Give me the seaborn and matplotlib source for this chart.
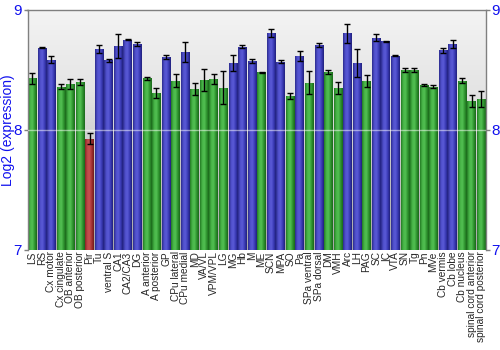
import numpy as np
import pandas as pd
import matplotlib
matplotlib.use("Agg")
import matplotlib.pyplot as plt
import seaborn as sns
from matplotlib.colors import LinearSegmentedColormap

regions = ["LS", "RS", "Cx motor", "Cx cingulate", "OB anterior", "OB posterior", "Pir",
           "Tu", "ventral S", "CA1", "CA2/CA3", "DG", "A anterior", "A posterior", "GP",
           "CPu lateral", "CPu medial", "MD", "VA/VL", "VPM/VPL", "LG", "MG", "Hb", "M",
           "ME", "SCN", "MPA", "SO", "Pa", "SPa ventral", "SPa dorsal", "DM", "VMH", "Arc",
           "LH", "PAG", "SC", "IC", "VTA", "SN", "Tg", "Pn", "MVe", "Cb vermis", "Cb lobe",
           "Cb nucleus", "spinal cord anterior", "spinal cord posterior"]
expression = [8.43, 8.683, 8.583, 8.361, 8.383, 8.397, 7.925,
              8.672, 8.578, 8.70, 8.75, 8.714, 8.43, 8.308, 8.608,
              8.408, 8.647, 8.342, 8.417, 8.425, 8.35, 8.556, 8.694, 8.575,
              8.48, 8.803, 8.567, 8.283, 8.614, 8.392, 8.708, 8.485, 8.347, 8.803,
              8.558, 8.406, 8.769, 8.736, 8.617, 8.50, 8.50, 8.375, 8.358, 8.664, 8.714,
              8.411, 8.244, 8.258]
error = [0.047, 0.005, 0.028, 0.017, 0.044, 0.025, 0.046,
         0.033, 0.011, 0.10, 0.005, 0.015, 0.014, 0.044, 0.014,
         0.054, 0.085, 0.049, 0.094, 0.042, 0.137, 0.067, 0.011, 0.018,
         0.004, 0.033, 0.014, 0.024, 0.039, 0.096, 0.018, 0.017, 0.05, 0.081,
         0.119, 0.049, 0.032, 0.008, 0.003, 0.018, 0.018, 0.008, 0.013, 0.021, 0.031,
         0.017, 0.05, 0.065]
level = ["mid", "high", "high", "mid", "mid", "mid", "low",
         "high", "high", "high", "high", "high", "mid", "mid", "high",
         "mid", "high", "mid", "mid", "mid", "mid", "high", "high", "high",
         "mid", "high", "high", "mid", "high", "mid", "high", "mid", "mid", "high",
         "high", "mid", "high", "high", "high", "mid", "mid", "mid", "mid", "high", "high",
         "mid", "mid", "mid"]

palette = {"high": "#3c3cb8", "mid": "#2f9a2f", "low": "#b03434"}
shades = {
    "high": ["#2a2a8c", "#5050cc", "#5a5ad6", "#3a3ab6", "#20207a"],
    "mid": ["#237a23", "#47b447", "#52c052", "#2f942f", "#1a661a"],
    "low": ["#882424", "#bc4848", "#c85050", "#a43232", "#701a1a"],
}

df = pd.DataFrame({"region": regions, "expr": expression, "err": error, "level": level})

sns.set_style("white")
plt.rcParams["font.family"] = ["Liberation Sans", "DejaVu Sans"]

fig = plt.figure(figsize=(5, 3.5), dpi=100)
ax = fig.add_axes([0.055, 0.286, 0.917, 0.686])

sns.barplot(data=df, x="region", y="expr", hue="level", order=regions,
            palette=palette, dodge=False, width=0.9, legend=False,
            errorbar=None, ax=ax, zorder=2, linewidth=0)

# bar shading (cylinder-like)
for p in list(ax.patches):
    x0, y0 = p.get_x(), p.get_y()
    w, h = p.get_width(), p.get_height()
    if h == 0 or np.isnan(h):
        continue
    idx = int(round(x0 + w / 2))
    cmap = LinearSegmentedColormap.from_list("s", shades[level[idx]])
    grad = np.linspace(0, 1, 64).reshape(1, -1)
    im = ax.imshow(grad, cmap=cmap, extent=[x0, x0 + w, 7, expression[idx]],
                   aspect="auto", zorder=2.5, interpolation="bilinear")
    im.set_clip_path(p)

# error bars
ax.errorbar(np.arange(len(regions)), expression, yerr=error, fmt="none",
            ecolor="black", elinewidth=1, capsize=2, capthick=1, zorder=4)

# background gradient
bg = LinearSegmentedColormap.from_list("bg", ["#a8a8a8", "#c4c4c4", "#e4e4e4", "#f4f4f4"])
ax.imshow(np.linspace(0, 1, 128).reshape(-1, 1), cmap=bg, origin="lower",
          extent=[0, 1, 0, 1], transform=ax.transAxes, aspect="auto", zorder=0)

ax.axhline(8, color="white", lw=1, alpha=0.5, zorder=3)

ax.set_xlim(-0.5, len(regions) - 0.5)
ax.set_ylim(7, 9)
ax.set_yticks([7, 8, 9])
ax.set_xlabel("")
ax.set_ylabel("Log2 (expression)", color="#1010ee", fontsize=10)
ax.yaxis.set_label_coords(-0.028, 0.5)
ax.tick_params(axis="y", which="both", left=True, right=True, labelleft=True,
               labelright=True, length=3, width=1, color="#808080",
               labelcolor="#1010ee", labelsize=11, pad=1)
ax.tick_params(axis="x", length=0, labelsize=7.3, pad=1)
plt.setp(ax.get_xticklabels(), rotation=90)
for s in ["left", "right", "top"]:
    ax.spines[s].set_visible(True)
    ax.spines[s].set_color("#808080")
    ax.spines[s].set_linewidth(1)
ax.spines["bottom"].set_visible(False)

fig.savefig("out.png", dpi=100)
